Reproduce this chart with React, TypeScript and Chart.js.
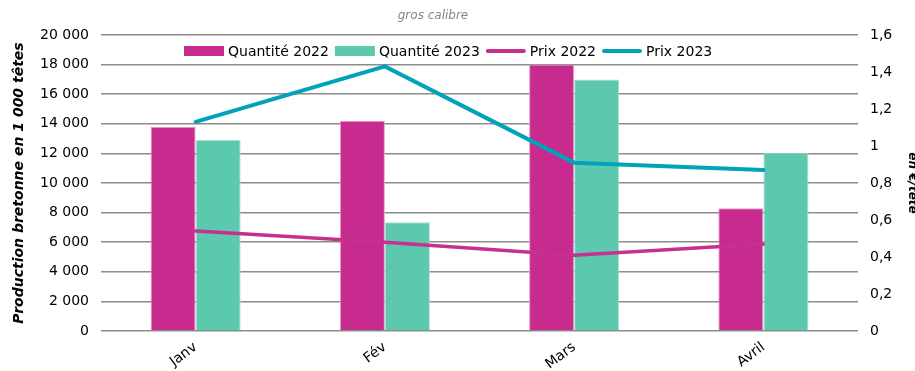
import React, { useEffect, useRef } from "react";
import { Chart, registerables } from "chart.js";

Chart.register(...registerables);

const categories = ["Janv", "Fév", "Mars", "Avril"];
const quantite2022 = [13800, 14200, 18000, 8300];
const quantite2023 = [12900, 7350, 17000, 12050];
const prix2022 = [0.54, 0.48, 0.41, 0.47];
const prix2023 = [1.13, 1.43, 0.91, 0.87];

const subtitle = "gros calibre";
const leftTitle = "Production bretonne en 1 000 têtes";
const rightTitle = "en €/tête";

const FONT = "'DejaVu Sans', Verdana, sans-serif";

const MAGENTA = "#C62B8D";
const TEAL_BAR = "#5CC8AE";
const TEAL_LINE = "#00A3BA";
const MAGENTA_LINE = "#C8308F";

const fmtThousands = (v: number) =>
  String(Math.round(v)).replace(/\B(?=(\d{3})+(?!\d))/g, " ");
const fmtDecimal = (v: number) => {
  const r = Math.round(v * 10) / 10;
  return String(r).replace(".", ",");
};

const overlayPlugin = {
  id: "overlay",
  afterDraw(chart: any) {
    const ctx = chart.ctx;
    ctx.save();
    // subtitle
    ctx.font = `italic 12px ${FONT}`;
    ctx.fillStyle = "#8E8580";
    ctx.textAlign = "center";
    ctx.textBaseline = "middle";
    ctx.fillText(subtitle, 433, 16);

    // legend
    ctx.font = `14px ${FONT}`;
    ctx.textAlign = "left";
    ctx.fillStyle = "#000";
    let x = 184;
    const y = 51;
    chart.data.datasets.forEach((ds: any) => {
      if (ds.type === "line") {
        ctx.strokeStyle = ds.borderColor;
        ctx.lineWidth = 4;
        ctx.lineCap = "round";
        ctx.beginPath();
        ctx.moveTo(x + 2, y);
        ctx.lineTo(x + 38, y);
        ctx.stroke();
      } else {
        ctx.fillStyle = ds.backgroundColor;
        ctx.fillRect(x, y - 5, 40, 10);
      }
      x += 44;
      ctx.fillStyle = "#000";
      ctx.fillText(ds.label, x, y + 1);
      x += ctx.measureText(ds.label).width + 6;
    });
    ctx.restore();
  },
};

export default function App() {
  const ref = useRef<HTMLCanvasElement | null>(null);

  useEffect(() => {
    if (!ref.current) return;
    const chart = new Chart(ref.current, {
      type: "bar",
      data: {
        labels: categories,
        datasets: [
          {
            type: "bar",
            label: "Quantité 2022",
            data: quantite2022,
            backgroundColor: MAGENTA,
            borderColor: "#E3A0CB",
            borderWidth: 1,
            yAxisID: "y",
            order: 2,
            barPercentage: 1,
            categoryPercentage: 0.476,
          },
          {
            type: "bar",
            label: "Quantité 2023",
            data: quantite2023,
            backgroundColor: TEAL_BAR,
            borderColor: "#A8E2D4",
            borderWidth: 1,
            yAxisID: "y",
            order: 2,
            barPercentage: 1,
            categoryPercentage: 0.476,
          },
          {
            type: "line",
            label: "Prix 2022",
            data: prix2022,
            borderColor: MAGENTA_LINE,
            backgroundColor: MAGENTA_LINE,
            borderWidth: 3.5,
            borderCapStyle: "round",
            pointRadius: 0,
            tension: 0,
            yAxisID: "y1",
            order: 0,
          },
          {
            type: "line",
            label: "Prix 2023",
            data: prix2023,
            borderColor: TEAL_LINE,
            backgroundColor: TEAL_LINE,
            borderWidth: 4,
            borderCapStyle: "round",
            pointRadius: 0,
            tension: 0,
            yAxisID: "y1",
            order: 0,
          },
        ] as any,
      },
      options: {
        responsive: false,
        animation: false,
        layout: { padding: { top: 35, left: 0, right: 0, bottom: 0 } },
        plugins: {
          legend: { display: false },
          title: { display: false },
          tooltip: { enabled: false },
        },
        scales: {
          x: {
            grid: { display: false },
            border: { display: false },
            ticks: {
              font: { family: FONT, size: 14 },
              color: "#000",
              minRotation: 37,
              maxRotation: 37,
              padding: 0,
            },
            afterFit: (s: any) => {
              s.height = 40;
            },
          },
          y: {
            position: "left",
            min: 0,
            max: 20000,
            ticks: {
              stepSize: 2000,
              font: { family: FONT, size: 14 },
              color: "#000",
              padding: 12,
              callback: (v: any) => fmtThousands(Number(v)),
            },
            grid: { color: "#8C8C8C", lineWidth: 1.5, drawTicks: false },
            border: { display: false },
            title: {
              display: true,
              text: leftTitle,
              font: { family: FONT, size: 14, weight: "bold", style: "italic" },
              color: "#000",
              padding: { top: 11, bottom: 0 },
            },
            afterFit: (s: any) => {
              s.width = 101;
            },
          },
          y1: {
            position: "right",
            min: 0,
            max: 1.6,
            ticks: {
              stepSize: 0.2,
              font: { family: FONT, size: 14 },
              color: "#000",
              padding: 12,
              callback: (v: any) => fmtDecimal(Number(v)),
            },
            grid: { display: false, drawTicks: false },
            border: { display: false },
            title: {
              display: true,
              text: rightTitle,
              font: { family: FONT, size: 12, weight: "bold", style: "italic" },
              color: "#000",
              padding: { top: 0, bottom: 0 },
            },
            afterFit: (s: any) => {
              s.width = 61;
            },
          },
        },
      } as any,
      plugins: [overlayPlugin],
    });
    return () => chart.destroy();
  }, []);

  return (
    <div
      style={{
        position: "fixed",
        left: 0,
        top: 0,
        width: 915,
        height: 371,
        overflow: "hidden",
        background: "#fff",
      }}
    >
      <canvas ref={ref} width={919} height={371} style={{ display: "block" }} />
    </div>
  );
}
